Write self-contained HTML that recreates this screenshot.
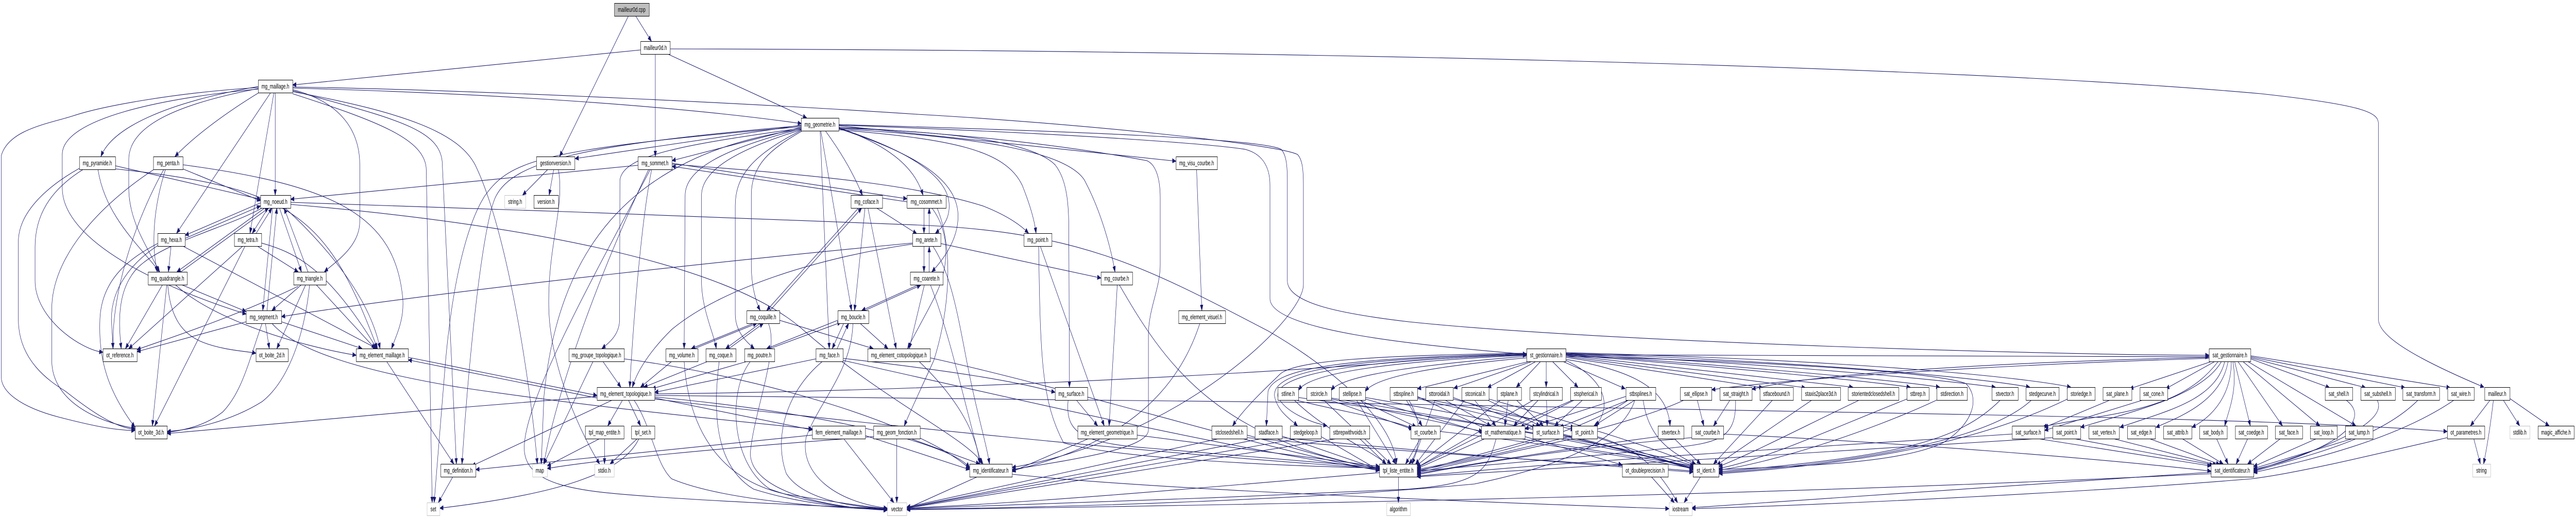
<!DOCTYPE html>
<html><head><meta charset="utf-8">
<meta name="viewport" content="width=device-width">
<style>
html,body{margin:0;padding:0;background:#fff;width:100%;height:100%;overflow:hidden;}
svg{display:block;position:fixed;left:0;top:0;width:100vw;height:100vh;overflow:hidden}
rect{fill:#fff;stroke:#000;stroke-width:1}
rect.g{stroke:#bfbfbf}
text{font-family:"Liberation Sans",Arial,sans-serif;font-size:13px;text-anchor:middle;fill:#000}
.e path{fill:none;stroke:#191970;stroke-width:1.1;marker-end:url(#a)}
</style></head>
<body>
<svg viewBox="0 0 7862 1008" preserveAspectRatio="none" xmlns="http://www.w3.org/2000/svg">
<defs>
<marker id="a" markerWidth="12" markerHeight="10" refX="11" refY="5" orient="auto" markerUnits="userSpaceOnUse">
<path d="M0,0.8 L11,5 L0,9.2 z" fill="#191970" stroke="#191970" stroke-width="1"/>
</marker>
</defs>
<g class="e">
<!-- top -->
<path d="M1918,31 L1708,304"/>
<path d="M1940,31 L1988,80"/>
<path d="M1955,97 L893,165"/>
<path d="M2000,105 L2000,304"/>
<path d="M2038,105 L2462,229"/>
<path d="M2045,95 C3800,97 5900,125 6900,182 C7230,205 7259,220 7259,241 L7259,620 C7259,650 7350,690 7581,752"/>
<!-- mg_maillage -->
<path d="M788,168 C500,200 340,250 308,304"/>
<path d="M790,180 C700,215 600,260 534,304"/>
<path d="M840,180 L840,379"/>
<path d="M826,180 L539,453"/>
<path d="M836,180 L763,453"/>
<path d="M788,172 C560,200 393,240 393,310 L393,365 C393,430 450,480 487,528"/>
<path d="M788,173 C500,190 190,230 190,300 L190,365 C190,470 500,560 751,610"/>
<path d="M788,170 C536,180 312,206 223,225 C150,240 27,251 4,302 L4,733 C4,760 60,790 179,810 C300,830 360,836 412,836"/>
<path d="M893,174 C1050,200 1098,260 1098,320 L1098,430 C1098,480 1020,510 990,528"/>
<path d="M893,182 C1150,235 1300,270 1301,330 L1319,976"/>
<path d="M893,176 C1200,230 1350,250 1350,320 L1393,901"/>
<path d="M893,171 C1400,180 2000,200 2446,240"/>
<path d="M893,169 C1500,175 2400,205 2800,222 C3300,240 3900,280 3960,300 C3975,310 3978,330 3978,360 L3978,553 C3978,620 3600,850 3089,908"/>
<path d="M893,178 C1250,220 1400,260 1450,320 C1550,450 1620,750 1640,901"/>
<!-- mg_pyramide -->
<path d="M352,322 L795,387"/>
<path d="M352,328 C900,365 1000,420 1152,677"/>
<path d="M299,329 C320,420 430,480 487,528"/>
<path d="M254,329 C150,370 107,420 107,480 L107,545 C107,620 250,680 314,684"/>
<path d="M242,327 C150,360 56,410 56,470 L56,620 C56,700 150,740 200,760 C280,800 350,830 412,834"/>
<!-- mg_penta -->
<path d="M558,328 L795,390"/>
<path d="M558,320 C1027,360 1205,420 1229,578 C1235,620 1210,650 1195,677"/>
<path d="M505,329 C470,400 460,470 480,528"/>
<path d="M500,329 C420,420 340,560 345,677"/>
<path d="M470,329 C300,400 158,500 158,600 L158,700 C158,780 300,820 412,832"/>
<!-- mg_noeud -->
<path d="M795,394 L565,457"/>
<path d="M565,463 L795,400"/>
<path d="M818,404 L770,453"/>
<path d="M782,453 L830,404"/>
<path d="M808,404 L540,528"/>
<path d="M552,528 L820,404"/>
<path d="M853,404 L920,528"/>
<path d="M940,528 L867,404"/>
<path d="M832,404 L802,603"/>
<path d="M815,603 L845,404"/>
<path d="M800,404 C700,440 500,470 420,520 C360,560 360,620 370,677"/>
<path d="M870,404 C1000,480 1130,580 1160,677"/>
<path d="M887,393 C1400,400 2400,430 2800,437 C3300,450 3500,520 3871,643 C4000,690 4250,800 4262,901"/>
<path d="M887,397 C1500,430 2200,500 2450,640 C2700,780 2950,850 3000,901"/>
<!-- mg_hexa -->
<path d="M522,478 L514,528"/>
<path d="M558,478 L1150,677"/>
<path d="M486,475 C400,510 340,560 340,620 L345,677"/>
<path d="M481,473 C400,500 310,540 305,620 C300,700 330,760 412,830"/>
<!-- mg_tetra -->
<path d="M785,478 L910,528"/>
<path d="M798,472 C900,490 1000,520 1150,677"/>
<path d="M741,478 L393,677"/>
<path d="M748,478 L472,827"/>
<!-- mg_quadrangle -->
<path d="M554,553 L751,605"/>
<path d="M535,553 C650,620 900,670 1087,690"/>
<path d="M496,553 L383,677"/>
<path d="M512,553 C520,620 560,650 620,665 C680,680 750,682 781,686"/>
<path d="M509,553 L465,827"/>
<!-- mg_triangle -->
<path d="M920,553 L830,603"/>
<path d="M910,556 C700,620 500,660 418,679"/>
<path d="M933,553 L845,677"/>
<path d="M965,553 L1145,677"/>
<path d="M945,553 C930,650 880,740 800,780 C700,820 580,835 510,838"/>
<!-- mg_segment -->
<path d="M751,625 L418,683"/>
<path d="M810,628 L822,677"/>
<path d="M859,625 L1105,677"/>
<path d="M800,628 C760,700 740,760 680,800 C620,830 550,836 510,840"/>
<path d="M830,628 C900,680 1100,720 1400,752 C1800,790 2200,815 2479,833"/>
<!-- mg_element_maillage -->
<path d="M1180,702 L1385,901"/>
<path d="M1246,694 L1822,768"/>
<path d="M1822,773 L1246,699"/>
<path d="M1382,926 L1338,976"/>
<path d="M1950,852 C1900,920 1700,960 1342,987"/>
<!-- gestionversion -->
<path d="M1672,329 L1595,379"/>
<path d="M1690,329 L1676,379"/>
<path d="M1704,329 C1725,400 1670,480 1675,600 C1680,720 1780,850 1830,901"/>
<!-- mg_geometrie -->
<path d="M2446,243 L1755,308"/>
<path d="M2446,247 L2051,312"/>
<path d="M2519,254 C2560,290 2600,330 2632,379"/>
<path d="M2505,254 L2599,603"/>
<path d="M2503,254 L2531,677"/>
<path d="M2449,254 C2350,290 2293,320 2293,380 L2293,514 C2293,560 2310,590 2320,603"/>
<path d="M2446,250 C2200,290 2091,330 2091,380 L2088,677"/>
<path d="M2446,252 C2250,290 2141,330 2141,380 L2141,546 C2141,600 2180,650 2186,677"/>
<path d="M2446,253 C2300,300 2244,340 2244,400 L2244,610 C2244,640 2270,660 2302,677"/>
<path d="M2446,249 C2100,280 1900,300 1892,350 L1891,620 C1891,650 1860,665 1837,677"/>
<path d="M2446,251 C1900,300 1700,500 1660,771 L1652,901"/>
<path d="M2446,246 C1650,290 1560,310 1480,380 C1420,440 1380,560 1360,700 L1325,976"/>
<path d="M2446,244 C1800,280 1560,310 1510,386 C1470,450 1430,700 1410,901"/>
<path d="M2561,248 C2700,280 2790,320 2817,379"/>
<path d="M2561,249 C2760,290 2897,340 2897,400 C2897,430 2870,445 2855,453"/>
<path d="M2561,250 C2800,300 2924,350 2924,420 C2924,470 2870,510 2844,528"/>
<path d="M2560,252 C2900,270 3068,290 3120,360 C3145,400 3158,430 3162,453"/>
<path d="M2560,250 C2950,265 3250,290 3310,350 C3360,410 3390,480 3403,528"/>
<path d="M2560,249 C2900,255 3150,275 3220,320 C3258,350 3262,400 3262,450 L3264,752"/>
<path d="M2560,244 L3589,313"/>
<path d="M2560,247 C3100,265 3400,300 3500,312 C3530,320 3541,350 3541,385 L3541,514 C3541,560 3505,600 3505,650 L3505,835 C3505,870 3300,890 3089,912"/>
<path d="M2560,243 C3300,260 3700,280 3800,290 C3860,300 3876,330 3876,360 L3876,580 C3876,640 4300,670 4659,688"/>
<path d="M2560,242 C3300,255 3850,270 3910,290 C3925,300 3929,320 3929,350 L3929,545 C3929,590 4100,610 4300,625 C4900,665 6300,690 6742,690"/>
<!-- mg_sommet -->
<path d="M2051,317 L2768,386"/>
<path d="M2768,392 L2051,323"/>
<path d="M1947,321 L887,387"/>
<path d="M1989,329 C1960,420 1935,600 1922,752"/>
<path d="M2051,319 C2500,340 2800,360 3000,400 C3080,420 3120,440 3139,453"/>
<path d="M1980,329 C1850,500 1700,750 1660,901"/>
<path d="M1985,329 C1800,550 1600,780 1600,870 C1600,950 1800,955 2000,965 C2300,978 2600,985 2708,988"/>
<!-- mg_coface -->
<path d="M2620,404 L2340,603"/>
<path d="M2350,603 L2630,404"/>
<path d="M2640,404 L2608,603"/>
<path d="M2649,404 L2735,677"/>
<path d="M2675,404 L2798,454"/>
<!-- cosommet / arete / coarete -->
<path d="M2820,404 L2820,453"/>
<path d="M2836,453 L2836,404"/>
<path d="M2844,404 C2900,450 2900,520 2850,580 C2810,630 2790,650 2770,677"/>
<path d="M2860,404 C2910,480 2900,600 2850,700 C2800,770 2770,810 2760,827"/>
<path d="M2820,479 L2820,528"/>
<path d="M2836,528 L2836,479"/>
<path d="M2785,472 C2400,495 1400,560 859,615"/>
<path d="M2785,474 C2500,500 2200,560 2050,640 C1970,690 1940,730 1930,752"/>
<path d="M2871,473 L3360,540"/>
<path d="M2848,479 C2900,530 2920,600 2950,700 C2980,800 3010,860 3020,901"/>
<path d="M2800,554 L2630,603"/>
<path d="M2640,603 L2810,554"/>
<path d="M2821,554 L2775,677"/>
<path d="M2840,554 C2900,650 2950,800 2995,901"/>
<!-- coquille / boucle -->
<path d="M2300,628 L2110,677"/>
<path d="M2120,677 L2310,628"/>
<path d="M2320,628 L2215,677"/>
<path d="M2225,677 L2330,628"/>
<path d="M2379,622 L2665,677"/>
<path d="M2575,628 L2540,677"/>
<path d="M2555,677 L2590,628"/>
<path d="M2557,622 L2340,677"/>
<path d="M2350,677 L2567,626"/>
<path d="M2625,628 L2710,677"/>
<!-- vector feeders -->
<path d="M2088,702 C2100,820 2180,930 2400,960 C2550,975 2650,985 2708,988"/>
<path d="M2195,702 C2180,780 2170,900 2300,950 C2450,980 2600,987 2708,989"/>
<path d="M2290,702 C2220,760 2230,900 2350,950 C2480,980 2620,988 2708,990"/>
<path d="M2345,628 C2380,680 2300,800 2290,880 C2290,950 2500,985 2708,991"/>
<path d="M2603,628 C2600,720 2500,780 2460,850 C2440,920 2550,975 2708,987"/>
<path d="M2510,702 C2400,760 2360,850 2400,920 C2450,970 2600,985 2708,988"/>
<path d="M1935,777 C1990,830 2000,900 2050,930 C2200,970 2500,985 2708,990"/>
<path d="M2575,852 L2728,976"/>
<path d="M2737,852 L2737,976"/>
<path d="M2983,926 L2767,988"/>
<!-- middle -->
<path d="M2050,702 L1955,752"/>
<path d="M2160,702 L1965,752"/>
<path d="M2280,702 L1990,755"/>
<path d="M2490,697 L1998,762"/>
<path d="M1840,702 L1895,752"/>
<path d="M1810,702 L1660,901"/>
<path d="M1905,697 C2300,730 2800,820 2959,910"/>
<path d="M2573,696 C2900,720 3100,740 3220,762"/>
<path d="M2805,702 C2900,760 2980,830 2990,901"/>
<path d="M1900,777 L1855,827"/>
<path d="M1918,777 L1955,827"/>
<path d="M1869,777 L1440,905"/>
<path d="M1998,773 L2479,835"/>
<path d="M1998,768 C3000,770 5000,790 6000,805 C6800,815 7200,825 7469,838"/>
<path d="M1998,771 C2500,800 2900,860 2959,908"/>
<path d="M1822,770 C1400,790 800,825 510,842"/>
<path d="M1830,852 L1670,905"/>
<path d="M1845,852 L1845,901"/>
<path d="M1945,852 L1862,901"/>
<path d="M2479,845 L1452,912"/>
<path d="M2641,846 L2959,912"/>
<path d="M2666,848 C2200,870 1800,895 1670,910"/>
<path d="M2780,852 L2990,901"/>
<path d="M1998,765 C2800,760 3700,730 4200,707 C4400,695 4550,690 4659,690"/>
<!-- to tpl_liste_entite etc -->
<path d="M1998,775 C2600,820 3500,880 4210,910"/>
<path d="M2573,700 C3000,760 3800,880 4210,912"/>
<path d="M2839,695 C3300,760 3900,880 4210,914"/>
<path d="M3260,777 C3250,840 3300,860 3500,870 C3800,885 4100,900 4210,908"/>
<path d="M3410,553 L3385,827"/>
<path d="M3416,553 C3550,700 3700,850 4210,911"/>
<path d="M3175,478 L3370,827"/>
<path d="M3170,479 C3175,700 3180,780 3246,860 C3400,890 3900,905 4210,909"/>
<path d="M3285,777 L3350,827"/>
<path d="M3322,852 L3089,916"/>
<path d="M3470,845 C3800,870 4100,895 4210,906"/>
<path d="M3662,628 C3600,750 3450,860 3089,914"/>
<path d="M3652,329 L3668,603"/>
<path d="M3089,921 C3500,950 4500,975 5094,988"/>
<!-- to vector from right -->
<path d="M4210,918 C3800,940 3200,975 2767,987"/>
<path d="M4566,852 C4540,920 4500,940 4300,950 C3800,965 3200,980 2767,988"/>
<path d="M4990,777 C4950,850 4800,900 4500,940 C4000,970 3300,985 2767,989"/>
<path d="M6748,920 C5800,950 4500,975 2767,990"/>
<path d="M3720,852 L2767,985"/>
<path d="M3850,852 L2767,986"/>
<path d="M3960,852 L2767,986"/>
<path d="M4080,852 L2767,987"/>
<!-- iostream -->
<path d="M7469,850 C7200,890 7000,920 6870,930 C6400,955 5600,980 5164,988"/>
<path d="M6748,917 C6000,945 5500,975 5164,986"/>
<!-- st row 10 -->
<path d="M3955,777 C4100,800 4250,815 4310,832"/>
<path d="M3950,777 C4050,840 4200,880 4230,901"/>
<path d="M3963,772 C4500,820 5000,870 5170,905"/>
<path d="M4060,777 L4312,834"/>
<path d="M4063,775 L4525,838"/>
<path d="M4040,777 L4245,901"/>
<path d="M4063,773 C4600,830 5000,880 5170,908"/>
<path d="M4150,777 L4322,829"/>
<path d="M4167,775 L4528,840"/>
<path d="M4140,777 L4260,901"/>
<path d="M4167,772 C4700,830 5000,880 5170,910"/>
<path d="M4292,777 L4340,827"/>
<path d="M4326,770 L4535,833"/>
<path d="M4300,777 C4350,830 4330,880 4300,901"/>
<path d="M4326,772 L4805,830"/>
<path d="M4326,774 C4700,830 5000,880 5170,912"/>
<path d="M4410,777 L4550,827"/>
<path d="M4435,772 L4688,830"/>
<path d="M4380,777 L4310,901"/>
<path d="M4435,775 L4805,835"/>
<path d="M4500,777 L4565,827"/>
<path d="M4540,777 L4700,827"/>
<path d="M4470,777 L4320,902"/>
<path d="M4544,775 C4800,820 5100,880 5175,905"/>
<path d="M4603,777 L4593,827"/>
<path d="M4628,777 L4710,827"/>
<path d="M4580,777 L4322,905"/>
<path d="M4695,777 L4620,827"/>
<path d="M4720,777 L4722,827"/>
<path d="M4680,777 L4325,908"/>
<path d="M4805,777 L4640,830"/>
<path d="M4830,777 L4745,827"/>
<path d="M4800,777 L4325,910"/>
<path d="M4962,770 L4654,833"/>
<path d="M4970,777 L4760,830"/>
<path d="M4990,777 L4865,827"/>
<path d="M5015,777 C5030,850 5100,880 5175,901"/>
<path d="M4975,775 C4800,850 4500,890 4325,912"/>
<path d="M5180,777 L5200,827"/>
<path d="M5140,777 C5000,820 4600,880 4325,914"/>
<path d="M5280,777 L5230,827"/>
<path d="M5297,777 C5300,850 5250,860 5100,870 C4800,890 4500,905 4325,915"/>
<path d="M5410,777 L5230,901"/>
<path d="M5530,777 L5240,903"/>
<path d="M5675,777 C5500,830 5350,880 5246,906"/>
<path d="M5820,775 C5600,830 5400,890 5246,910"/>
<path d="M5911,777 C5700,840 5400,900 5246,913"/>
<path d="M6105,777 C5980,857 5789,887 5246,916"/>
<path d="M6200,777 C6095,840 5789,893 5246,918"/>
<path d="M6310,775 C6100,840 5800,895 5246,920"/>
<!-- st row 11 -->
<path d="M3806,845 C3950,870 4100,900 4210,910"/>
<path d="M3913,847 L4210,912"/>
<path d="M4032,848 L4210,914"/>
<path d="M4150,852 L4230,901"/>
<path d="M3806,850 C4300,880 4900,900 5167,915"/>
<path d="M3913,850 C4400,880 4900,905 5167,917"/>
<path d="M4335,852 L4290,901"/>
<path d="M4395,838 C4700,860 5000,890 5167,910"/>
<path d="M4654,848 L4951,903"/>
<path d="M4521,845 L4325,908"/>
<path d="M4640,852 L5170,905"/>
<path d="M4690,852 L4325,916"/>
<path d="M4771,845 L5170,910"/>
<path d="M4875,850 L5170,912"/>
<path d="M4800,852 L4325,918"/>
<path d="M4875,848 C4990,870 5050,900 5120,976"/>
<path d="M5110,852 L5190,901"/>
<path d="M5060,848 C4800,870 4500,900 4325,920"/>
<path d="M5163,850 C4800,870 4500,900 4325,922"/>
<path d="M5260,843 C5800,860 6400,890 6748,915"/>
<path d="M5190,926 L5140,976"/>
<path d="M5040,926 L5110,976"/>
<path d="M4268,927 L4268,976"/>
<!-- st_gestionnaire -->
<path d="M4667,702 L4326,755"/>
<path d="M4676,702 L4437,754"/>
<path d="M4688,702 L4540,753"/>
<path d="M4702,702 L4628,752"/>
<path d="M4719,702 L4719,752"/>
<path d="M4738,702 L4816,752"/>
<path d="M4770,702 L4960,755"/>
<path d="M4779,700 C4880,730 4930,780 4870,827"/>
<path d="M4779,698 C5000,720 5090,760 5097,827"/>
<path d="M4779,694 L5380,753"/>
<path d="M4779,692 L5510,753"/>
<path d="M4779,690 C5200,720 5500,740 5655,752"/>
<path d="M4779,689 C5300,715 5700,740 5830,752"/>
<path d="M4779,688 C5400,715 5800,740 5920,752"/>
<path d="M4779,687 C5500,710 5950,740 6090,752"/>
<path d="M4779,686 C5600,705 6050,735 6195,752"/>
<path d="M4779,685 C5700,700 6200,735 6320,752"/>
<path d="M4779,689 L6742,693"/>
<path d="M4659,690 C4300,700 4000,720 3963,758"/>
<path d="M4659,692 C4400,705 4100,725 4063,758"/>
<path d="M4659,695 C4400,710 4200,730 4167,760"/>
<path d="M4659,686 C4200,690 3950,700 3906,727 C3870,750 3800,790 3762,827"/>
<path d="M4659,687 C4100,695 3890,715 3870,760 L3865,827"/>
<path d="M4659,688 C4100,697 3880,720 3890,770 C3900,800 3940,815 3960,827"/>
<path d="M4659,689 C4100,700 3890,730 3900,770 C3920,800 4000,820 4050,827"/>
<path d="M4779,692 C5300,700 5900,720 6000,745 C6040,770 6030,820 5930,860 C5800,900 5500,905 5246,912"/>
<!-- sat_gestionnaire -->
<path d="M6750,702 L6500,755"/>
<path d="M6760,702 L6610,755"/>
<path d="M6770,702 C6700,760 6600,790 6400,810 C6300,820 6260,825 6235,829"/>
<path d="M6780,702 C6720,770 6500,800 6350,830"/>
<path d="M6790,702 C6760,780 6600,800 6470,830"/>
<path d="M6800,702 C6780,780 6650,810 6580,830"/>
<path d="M6810,702 C6810,770 6750,810 6690,830"/>
<path d="M6815,702 C6830,760 6800,800 6790,827"/>
<path d="M6820,702 L6868,827"/>
<path d="M6830,702 L6966,827"/>
<path d="M6845,702 L7080,827"/>
<path d="M6860,702 L7190,827"/>
<path d="M6869,697 L7110,753"/>
<path d="M6869,695 L7220,753"/>
<path d="M6869,693 L7340,753"/>
<path d="M6869,691 L7478,753"/>
<path d="M6742,696 C6000,710 5400,740 5224,757"/>
<path d="M6742,694 C6000,705 5500,730 5347,756"/>
<path d="M6440,777 L6240,830"/>
<path d="M6540,777 L6240,836"/>
<path d="M6220,852 L6748,905"/>
<path d="M6330,852 L6755,903"/>
<path d="M6450,852 L6765,903"/>
<path d="M6560,852 L6775,902"/>
<path d="M6660,852 L6785,901"/>
<path d="M6765,852 L6800,901"/>
<path d="M6860,852 L6825,901"/>
<path d="M6960,852 L6860,901"/>
<path d="M7070,852 L6878,906"/>
<path d="M7180,852 L6878,910"/>
<path d="M7160,777 C7250,820 7100,880 6878,912"/>
<path d="M7255,777 C7300,830 7000,890 6878,914"/>
<path d="M7380,777 C7250,860 7000,890 6878,916"/>
<path d="M7490,777 C7300,860 7000,900 6878,918"/>
<path d="M6141,843 C5500,870 4800,895 4325,925"/>
<path d="M6265,850 C5700,875 4800,905 4325,926"/>
<!-- mailleur -->
<path d="M7600,777 L7540,827"/>
<path d="M7610,777 C7600,830 7590,870 7580,901"/>
<path d="M7640,777 L7690,827"/>
<path d="M7660,774 L7780,827"/>
<path d="M7550,852 L7570,901"/>
</g>

<g>
<!-- row 0 -->
<rect x="1875.5" y="6.5" width="106" height="25" style="fill:#bfbfbf"/><text x="1928" y="23">mailleur0d.cpp</text>
<!-- row 1 -->
<rect x="1955.5" y="80.5" width="90" height="25"/><text x="2000" y="97">mailleur0d.h</text>
<!-- row 2 -->
<rect x="788.5" y="155.5" width="105" height="25"/><text x="840.5" y="172">mg_maillage.h</text>
<!-- row 3 -->
<rect x="2445.5" y="229.5" width="115" height="25"/><text x="2502.5" y="246">mg_geometrie.h</text>
<!-- row 4 -->
<rect x="242.5" y="304.5" width="110" height="25"/><text x="297" y="321">mg_pyramide.h</text>
<rect x="468.5" y="304.5" width="90" height="25"/><text x="513" y="321">mg_penta.h</text>
<rect x="1637.5" y="304.5" width="117" height="25"/><text x="1695.5" y="321">gestionversion.h</text>
<rect x="1947.5" y="304.5" width="104" height="25"/><text x="1999" y="321">mg_sommet.h</text>
<rect x="3589.5" y="304.5" width="126" height="25"/><text x="3652" y="321">mg_visu_courbe.h</text>
<!-- row 5 -->
<rect x="795.5" y="379.5" width="92" height="25"/><text x="841" y="396">mg_noeud.h</text>
<rect class="g" x="1540.5" y="379.5" width="64" height="25"/><text x="1572" y="396">string.h</text>
<rect x="1629.5" y="379.5" width="75" height="25"/><text x="1666.5" y="396">version.h</text>
<rect x="2597.5" y="379.5" width="96" height="25"/><text x="2645" y="396">mg_coface.h</text>
<rect x="2768.5" y="379.5" width="119" height="25"/><text x="2827.5" y="396">mg_cosommet.h</text>
<!-- row 6 -->
<rect x="481.5" y="453.5" width="84" height="25"/><text x="523" y="470">mg_hexa.h</text>
<rect x="715.5" y="453.5" width="83" height="25"/><text x="756.5" y="470">mg_tetra.h</text>
<rect x="2785.5" y="453.5" width="86" height="25"/><text x="2828" y="470">mg_arete.h</text>
<rect x="3125.5" y="453.5" width="85" height="25"/><text x="3167.5" y="470">mg_point.h</text>
<!-- row 7 -->
<rect x="452.5" y="528.5" width="119" height="25"/><text x="511.5" y="545">mg_quadrangle.h</text>
<rect x="896.5" y="528.5" width="99" height="25"/><text x="945.5" y="545">mg_triangle.h</text>
<rect x="2778.5" y="528.5" width="100" height="25"/><text x="2828" y="545">mg_coarete.h</text>
<rect x="3360.5" y="528.5" width="96" height="25"/><text x="3408" y="545">mg_courbe.h</text>
<!-- row 8 -->
<rect x="751.5" y="603.5" width="108" height="25"/><text x="805" y="620">mg_segment.h</text>
<rect x="2279.5" y="603.5" width="100" height="25"/><text x="2329" y="620">mg_coquille.h</text>
<rect x="2557.5" y="603.5" width="94" height="25"/><text x="2604" y="620">mg_boucle.h</text>
<rect x="3597.5" y="603.5" width="143" height="25"/><text x="3668.5" y="620">mg_element_visuel.h</text>
<!-- row 9 -->
<rect x="314.5" y="677.5" width="104" height="25"/><text x="366" y="694">ot_reference.h</text>
<rect x="781.5" y="677.5" width="98" height="25"/><text x="830" y="694">ot_boite_2d.h</text>
<rect x="1087.5" y="677.5" width="159" height="25"/><text x="1166.5" y="694">mg_element_maillage.h</text>
<rect x="1736.5" y="677.5" width="169" height="25"/><text x="1820.5" y="694">mg_groupe_topologique.h</text>
<rect x="2032.5" y="677.5" width="98" height="25"/><text x="2081" y="694">mg_volume.h</text>
<rect x="2154.5" y="677.5" width="92" height="25"/><text x="2200" y="694">mg_coque.h</text>
<rect x="2272.5" y="677.5" width="92" height="25"/><text x="2318" y="694">mg_poutre.h</text>
<rect x="2490.5" y="677.5" width="83" height="25"/><text x="2531.5" y="694">mg_face.h</text>
<rect x="2648.5" y="677.5" width="191" height="25"/><text x="2743.5" y="694">mg_element_cotopologique.h</text>
<rect x="4659.5" y="677.5" width="120" height="25"/><text x="4719" y="694">st_gestionnaire.h</text>
<rect x="6742.5" y="677.5" width="127" height="25"/><text x="6805.5" y="694">sat_gestionnaire.h</text>
<!-- row 10 -->
<rect x="1822.5" y="752.5" width="176" height="25"/><text x="1910" y="769">mg_element_topologique.h</text>
<rect x="3220.5" y="752.5" width="99" height="25"/><text x="3269.5" y="769">mg_surface.h</text>
<rect x="3900.5" y="752.5" width="63" height="25"/><text x="3931.5" y="769">stline.h</text>
<rect x="3988.5" y="752.5" width="75" height="25"/><text x="4025.5" y="769">stcircle.h</text>
<rect x="4087.5" y="752.5" width="80" height="25"/><text x="4127" y="769">stellipse.h</text>
<rect x="4242.5" y="752.5" width="84" height="25"/><text x="4284" y="769">stbspline.h</text>
<rect x="4351.5" y="752.5" width="84" height="25"/><text x="4393" y="769">sttoroidal.h</text>
<rect x="4461.5" y="752.5" width="83" height="25"/><text x="4502.5" y="769">stconical.h</text>
<rect x="4569.5" y="752.5" width="74" height="25"/><text x="4606" y="769">stplane.h</text>
<rect x="4669.5" y="752.5" width="99" height="25"/><text x="4718.5" y="769">stcylindrical.h</text>
<rect x="4793.5" y="752.5" width="94" height="25"/><text x="4840" y="769">stspherical.h</text>
<rect x="4962.5" y="752.5" width="91" height="25"/><text x="5007.5" y="769">stbsplines.h</text>
<rect x="5128.5" y="752.5" width="96" height="25"/><text x="5176" y="769">sat_ellipse.h</text>
<rect x="5249.5" y="752.5" width="98" height="25"/><text x="5298" y="769">sat_straight.h</text>
<rect x="5371.5" y="752.5" width="102" height="25"/><text x="5422" y="769">stfacebound.h</text>
<rect x="5498.5" y="752.5" width="119" height="25"/><text x="5557.5" y="769">staxis2place3d.h</text>
<rect x="5640.5" y="752.5" width="155" height="25"/><text x="5717.5" y="769">storientedclosedshell.h</text>
<rect x="5820.5" y="752.5" width="67" height="25"/><text x="5853.5" y="769">stbrep.h</text>
<rect x="5911.5" y="752.5" width="93" height="25"/><text x="5957.5" y="769">stdirection.h</text>
<rect x="6079.5" y="752.5" width="80" height="25"/><text x="6119" y="769">stvector.h</text>
<rect x="6183.5" y="752.5" width="101" height="25"/><text x="6233.5" y="769">stedgecurve.h</text>
<rect x="6309.5" y="752.5" width="85" height="25"/><text x="6351.5" y="769">storiedge.h</text>
<rect x="6418.5" y="752.5" width="88" height="25"/><text x="6462" y="769">sat_plane.h</text>
<rect x="6531.5" y="752.5" width="84" height="25"/><text x="6573" y="769">sat_cone.h</text>
<rect x="7096.5" y="752.5" width="84" height="25"/><text x="7138" y="769">sat_shell.h</text>
<rect x="7205.5" y="752.5" width="105" height="25"/><text x="7257.5" y="769">sat_subshell.h</text>
<rect x="7333.5" y="752.5" width="112" height="25"/><text x="7389" y="769">sat_transform.h</text>
<rect x="7470.5" y="752.5" width="81" height="25"/><text x="7510.5" y="769">sat_wire.h</text>
<rect x="7583.5" y="752.5" width="77" height="25"/><text x="7621.5" y="769">mailleur.h</text>
<!-- row 11 -->
<rect x="412.5" y="827.5" width="98" height="25"/><text x="461" y="844">ot_boite_3d.h</text>
<rect x="1786.5" y="827.5" width="118" height="25"/><text x="1845" y="844">tpl_map_entite.h</text>
<rect x="1927.5" y="827.5" width="71" height="25"/><text x="1962.5" y="844">tpl_set.h</text>
<rect x="2479.5" y="827.5" width="162" height="25"/><text x="2560" y="844">fem_element_maillage.h</text>
<rect x="2666.5" y="827.5" width="142" height="25"/><text x="2737" y="844">mg_geom_fonction.h</text>
<rect x="3289.5" y="827.5" width="181" height="25"/><text x="3379.5" y="844">mg_element_geometrique.h</text>
<rect x="3698.5" y="827.5" width="108" height="25"/><text x="3752" y="844">stclosedshell.h</text>
<rect x="3830.5" y="827.5" width="83" height="25"/><text x="3871.5" y="844">stadface.h</text>
<rect x="3938.5" y="827.5" width="94" height="25"/><text x="3985" y="844">stedgeloop.h</text>
<rect x="4058.5" y="827.5" width="122" height="25"/><text x="4119" y="844">stbrepwithvoids.h</text>
<rect x="4306.5" y="827.5" width="89" height="25"/><text x="4350.5" y="844">st_courbe.h</text>
<rect x="4521.5" y="827.5" width="133" height="25"/><text x="4587.5" y="844">ot_mathematique.h</text>
<rect x="4678.5" y="827.5" width="93" height="25"/><text x="4724.5" y="844">st_surface.h</text>
<rect x="4797.5" y="827.5" width="78" height="25"/><text x="4836" y="844">st_point.h</text>
<rect x="5060.5" y="827.5" width="79" height="25"/><text x="5099.5" y="844">stvertex.h</text>
<rect x="5163.5" y="827.5" width="97" height="25"/><text x="5211.5" y="844">sat_courbe.h</text>
<rect x="6141.5" y="827.5" width="99" height="25"/><text x="6190.5" y="844">sat_surface.h</text>
<rect x="6265.5" y="827.5" width="85" height="25"/><text x="6307.5" y="844">sat_point.h</text>
<rect x="6375.5" y="827.5" width="93" height="25"/><text x="6421.5" y="844">sat_vertex.h</text>
<rect x="6493.5" y="827.5" width="85" height="25"/><text x="6535.5" y="844">sat_edge.h</text>
<rect x="6603.5" y="827.5" width="86" height="25"/><text x="6646" y="844">sat_attrib.h</text>
<rect x="6713.5" y="827.5" width="84" height="25"/><text x="6755" y="844">sat_body.h</text>
<rect x="6822.5" y="827.5" width="98" height="25"/><text x="6871" y="844">sat_coedge.h</text>
<rect x="6944.5" y="827.5" width="83" height="25"/><text x="6985.5" y="844">sat_face.h</text>
<rect x="7051.5" y="827.5" width="82" height="25"/><text x="7092" y="844">sat_loop.h</text>
<rect x="7158.5" y="827.5" width="84" height="25"/><text x="7200" y="844">sat_lump.h</text>
<rect x="7469.5" y="827.5" width="114" height="25"/><text x="7526" y="844">ot_parametres.h</text>
<rect class="g" x="7660.5" y="827.5" width="61" height="25"/><text x="7690.5" y="844">stdlib.h</text>
<rect x="7746.5" y="827.5" width="110" height="25"/><text x="7801" y="844">magic_affiche.h</text>
<!-- row 12 -->
<rect x="1345.5" y="901.5" width="107" height="25"/><text x="1398.5" y="918">mg_definition.h</text>
<rect class="g" x="1625.5" y="901.5" width="45" height="25"/><text x="1647.5" y="918">map</text>
<rect class="g" x="1815.5" y="901.5" width="59" height="25"/><text x="1844.5" y="918">stdio.h</text>
<rect x="2959.5" y="901.5" width="130" height="25"/><text x="3024" y="918">mg_identificateur.h</text>
<rect x="4210.5" y="901.5" width="115" height="25"/><text x="4267.5" y="918">tpl_liste_entite.h</text>
<rect x="4951.5" y="901.5" width="140" height="25"/><text x="5021" y="918">ot_doubleprecision.h</text>
<rect x="5167.5" y="901.5" width="79" height="25"/><text x="5206.5" y="918">st_ident.h</text>
<rect x="6748.5" y="901.5" width="130" height="25"/><text x="6813" y="918">sat_identificateur.h</text>
<rect class="g" x="7546.5" y="901.5" width="55" height="25"/><text x="7573.5" y="918">string</text>
<!-- row 13 -->
<rect class="g" x="1303.5" y="976.5" width="39" height="25"/><text x="1322.5" y="993">set</text>
<rect class="g" x="2708.5" y="976.5" width="59" height="25"/><text x="2737.5" y="993">vector</text>
<rect class="g" x="4232.5" y="976.5" width="72" height="25"/><text x="4268" y="993">algorithm</text>
<rect class="g" x="5094.5" y="976.5" width="70" height="25"/><text x="5129" y="993">iostream</text>
</g>
</svg>
</body></html>
